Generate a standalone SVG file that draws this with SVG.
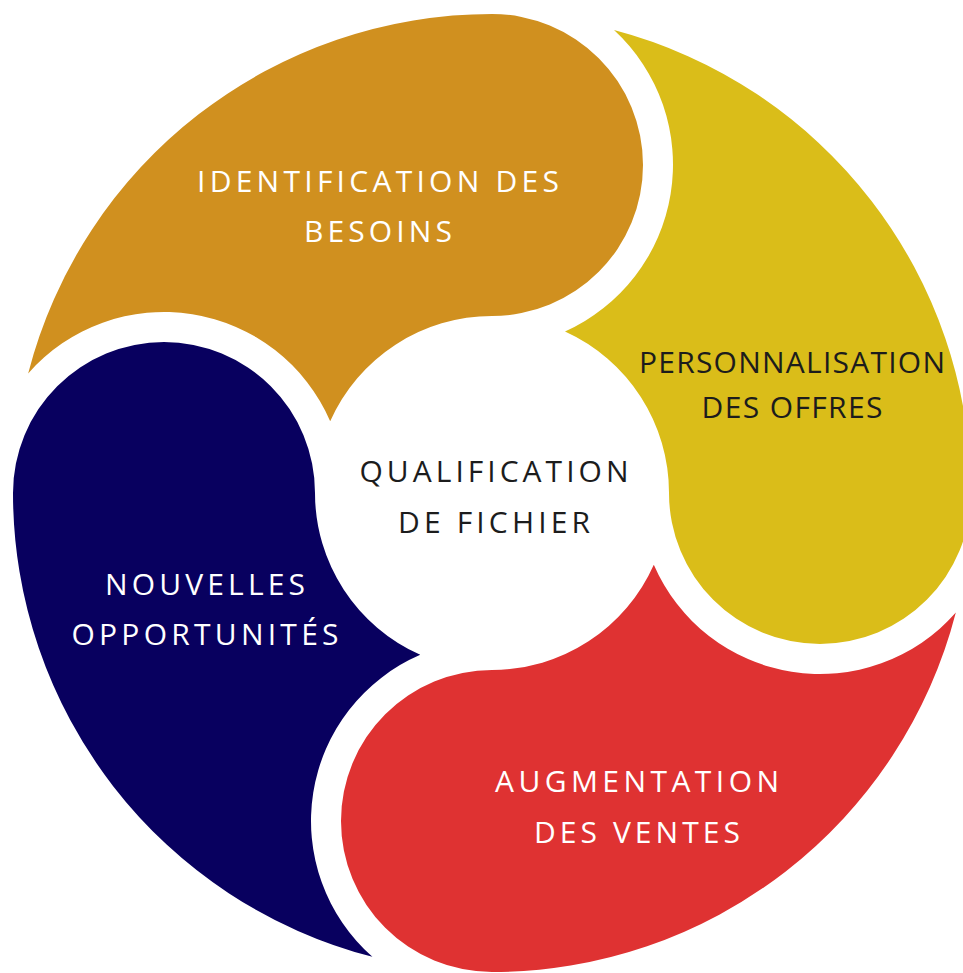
<svg xmlns="http://www.w3.org/2000/svg" width="963" height="973" viewBox="0 0 963 973">
  <style>
    .lbl { font-family: "Open Sans", "Liberation Sans", sans-serif; font-size: 30px; text-anchor: middle; }
    .light { fill: #ffffff; }
    .dark { fill: #1c1c1c; }
    .gold { fill: #D0901F; }
    .yellow { fill: #DABD19; }
    .red { fill: #DF3232; }
    .navy { fill: #08005F; }
  </style>
  <rect width="963" height="973" fill="#ffffff"/>

  <!-- Each petal: outer rim arc, round head, concave edge on the hub, concave edge around the previous head -->
  <g id="identification">
    <path class="gold" d="M 28.17 373.39 A 479 479 0 0 1 492 14 A 151 151 0 0 1 643 165 A 151 151 0 0 1 492 316 A 177 177 0 0 0 330.19 421.26 A 181 181 0 0 0 28.17 373.39 Z"/>
    <text class="lbl light" x="378" y="192" textLength="362" lengthAdjust="spacing">IDENTIFICATION DES</text>
    <text class="lbl light" x="378" y="242" textLength="148" lengthAdjust="spacing">BESOINS</text>
  </g>

  <g id="personnalisation">
    <path class="yellow" d="M 614 30 A 479 479 0 0 1 971 493 A 151 151 0 0 1 820 644 A 151 151 0 0 1 669 493 A 177 177 0 0 0 565 331.5 A 183 183 0 0 0 614 30 Z"/>
    <text class="lbl dark" x="792" y="373" textLength="306" lengthAdjust="spacing">PERSONNALISATION</text>
    <text class="lbl dark" x="792" y="418" textLength="181" lengthAdjust="spacing">DES OFFRES</text>
  </g>

  <g id="augmentation">
    <path class="red" d="M 955.83 612.61 A 479 479 0 0 1 492 972 A 151 151 0 0 1 341 821 A 151 151 0 0 1 492 670 A 177 177 0 0 0 653.81 564.74 A 181 181 0 0 0 955.83 612.61 Z"/>
    <text class="lbl light" x="637" y="792" textLength="284" lengthAdjust="spacing">AUGMENTATION</text>
    <text class="lbl light" x="637" y="843" textLength="206" lengthAdjust="spacing">DES VENTES</text>
  </g>

  <g id="opportunites">
    <path class="navy" d="M 372.39 956.83 A 479 479 0 0 1 13 493 A 151 151 0 0 1 164 342 A 151 151 0 0 1 315 493 A 177 177 0 0 0 420.26 654.81 A 181 181 0 0 0 372.39 956.83 Z"/>
    <text class="lbl light" x="205" y="595" textLength="200" lengthAdjust="spacing">NOUVELLES</text>
    <text class="lbl light" x="205" y="645" textLength="267" lengthAdjust="spacing">OPPORTUNITÉS</text>
  </g>

  <g id="qualification">
    <text class="lbl dark" x="494" y="482" textLength="269" lengthAdjust="spacing">QUALIFICATION</text>
    <text class="lbl dark" x="494" y="533" textLength="192" lengthAdjust="spacing">DE FICHIER</text>
  </g>
</svg>
